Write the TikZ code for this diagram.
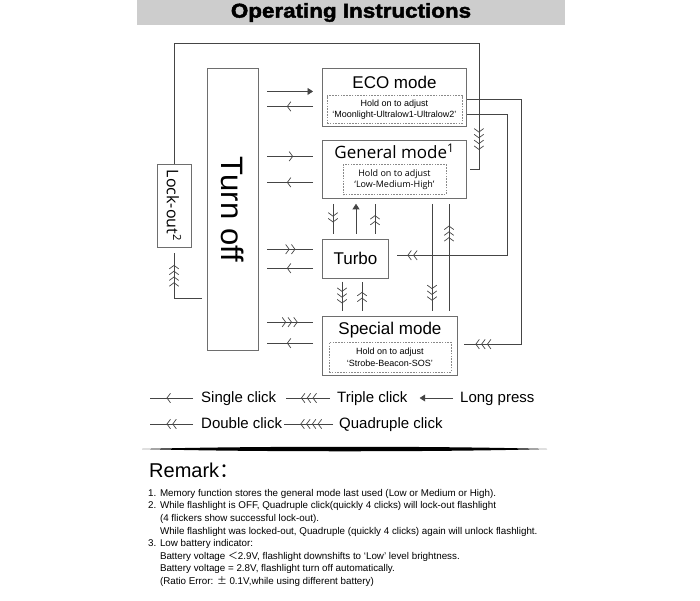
\documentclass[tikz,border=0pt]{standalone}
\usepackage{fontspec}
\setmainfont{Liberation Sans}
\newfontfamily\opensans{Open Sans}
\newfontfamily\cjk{Noto Sans CJK SC}
\newfontfamily\titlefont{Liberation Sans}[FakeStretch=1.12, BoldFeatures={FakeBold=2.2}]
\usepackage{xcolor}
\usepackage{graphicx}
\usepackage{tikz}
\usetikzlibrary{arrows.meta, positioning, calc, decorations.markings}
\definecolor{boxgrey}{HTML}{6E6E6E}
\definecolor{wiregrey}{HTML}{454545}
\definecolor{dashgrey}{HTML}{8A8A8A}
\definecolor{bandgrey}{HTML}{CDCDCD}
\tikzset{ch/.tip={Straight Barb[length=3.5pt,width=9.5pt,sep=1.5pt]}}

\begin{document}
\begin{tikzpicture}[x=1pt, y=-1pt,
  md/.style={rectangle, draw=boxgrey, line width=0.9pt, anchor=north west, inner sep=0pt},
  hd/.style={rectangle, draw=dashgrey, dash pattern=on 1.6pt off 1.2pt, line width=0.6pt,
             align=center, anchor=south, inner sep=0pt, font=\fontsize{9}{11.5}\selectfont},
  tt/.style={anchor=base, inner sep=0pt, font=\fontsize{17}{20}\selectfont},
  wr/.style={wiregrey, line width=0.7pt},
  lp/.style={-{Triangle[length=5.5pt,width=7pt]}},
  c1/.style={postaction={decorate}, decoration={markings, mark=at position #1 with {\arrow{ch[]}}}},
  c2/.style={postaction={decorate}, decoration={markings, mark=at position #1 with {\arrow{ch[]ch[]}}}},
  c3/.style={postaction={decorate}, decoration={markings, mark=at position #1 with {\arrow{ch[]ch[]ch[]}}}},
  c4/.style={postaction={decorate}, decoration={markings, mark=at position #1 with {\arrow{ch[]ch[]ch[]ch[]}}}},
  key/.style={anchor=west, inner sep=2pt, text height=11pt, text depth=3pt, font=\fontsize{15}{18}\selectfont}]
\useasboundingbox (0,0) rectangle (700,600);

% title band
\fill[bandgrey] (137,0) rectangle (565,25);
\node[font=\titlefont\bfseries\fontsize{20}{24}\selectfont] (title) at (351,12.5) {Operating Instructions};

% mode boxes
\node[md, minimum width=144pt, minimum height=58pt] (eco) at (322,68) {};
\node[md, minimum width=144pt, minimum height=58pt, below=13pt of eco.south west, anchor=north west] (gen) {};
\node[md, minimum width=66pt, minimum height=39pt, below=40pt of gen.south west, anchor=north west,
      font=\fontsize{17}{20}\selectfont] (turbo) {Turbo};
\node[md, minimum width=135pt, minimum height=59pt, below=37pt of turbo.south west, anchor=north west] (spec) {};
\node[md, minimum width=51pt, minimum height=282pt, left=63pt of eco.north west, anchor=north east,
      font=\fontsize{31}{36}\selectfont] (turnoff) {\rotatebox{-90}{Turn off}};
\node[md, minimum width=34pt, minimum height=83pt, anchor=center,
      font=\opensans\fontsize{16}{19}\selectfont] (lock) at (174,205.5) {\rotatebox{-90}{Lock-out\textsuperscript{2}}};

\node[tt] (ecot) at ($(eco.north)+(0,20)$) {ECO mode};
\node[hd, minimum width=135pt, minimum height=28pt, above=3pt of eco.south] (ecoh) {Hold on to adjust\\‘Moonlight-Ultralow1-Ultralow2’};
\node[tt, font=\opensans\fontsize{17}{20}\selectfont] (gent) at ($(gen.north)+(0,19)$) {General mode\textsuperscript{1}};
\node[hd, minimum width=103pt, minimum height=30pt, above=4pt of gen.south,
      font=\opensans\fontsize{9}{11.5}\selectfont] (genh) {Hold on to adjust\\‘Low-Medium-High’};
\node[tt] (spect) at ($(spec.north)+(0,19)$) {Special mode};
\node[hd, minimum width=122pt, minimum height=30pt, above=3pt of spec.south] (spech) {Hold on to adjust\\‘Strobe-Beacon-SOS’};

% turn off <-> modes
\draw[wr, lp] ($(turnoff.east|-eco.west)+(8,-6)$) -- ($(eco.west)+(-9,-6)$);
\draw[wr, c1=0.6] ($(eco.west)+(-9,9)$) -- ($(turnoff.east|-eco.west)+(8,9)$);
\draw[wr, c1=0.6] ($(turnoff.east|-gen.west)+(8,-13)$) -- ($(gen.west)+(-9,-13)$);
\draw[wr, c1=0.6] ($(gen.west)+(-9,13)$) -- ($(turnoff.east|-gen.west)+(8,13)$);
\draw[wr, c2=0.65] ($(turnoff.east|-turbo.west)+(8,-9.5)$) -- ($(turbo.west)+(-9,-9.5)$);
\draw[wr, c1=0.6] ($(turbo.west)+(-9,9.5)$) -- ($(turnoff.east|-turbo.west)+(8,9.5)$);
\draw[wr, c3=0.7] ($(turnoff.east|-spec.west)+(8,-23.5)$) -- ($(spec.west)+(-9,-23.5)$);
\draw[wr, c1=0.6] ($(spec.west)+(-9,-2.5)$) -- ($(turnoff.east|-spec.west)+(8,-2.5)$);

% between the modes
\draw[wr, c2=0.67] ($(turbo.north west|-gen.south)+(11,5)$) -- ($(turbo.north west)+(11,-5)$);
\draw[wr, lp] ($(turbo.north west)+(34,-5)$) -- ($(turbo.north west|-gen.south)+(34,5)$);
\draw[wr, c2=0.67] ($(turbo.north west)+(53,-5)$) -- ($(turbo.north west|-gen.south)+(53,5)$);
\draw[wr, c3=0.8] ($(turbo.south west)+(20,3)$) -- ($(turbo.south west|-spec.north)+(20,-5)$);
\draw[wr, c2=0.7] ($(turbo.south west|-spec.north)+(40,-5)$) -- ($(turbo.south west)+(40,3)$);
\draw[wr, c3=0.92] ($(gen.south west)+(110,5)$) -- ($(gen.south west|-spec.north)+(110,-5)$);
\draw[wr, c3=0.81] ($(gen.south west|-spec.north)+(127,-5)$) -- ($(gen.south west)+(127,5)$);
\draw[wr, c2=-9pt] ($(eco.east)+(0,17)$) -- ++(40,0) |- ($(turbo.east)+(8,-3.5)$);
\draw[wr, c3=-10pt] ($(eco.east)+(0,2)$) -- ++(54,0) |- ($(spec.east)+(6,-1.5)$);

% lock-out loop
\draw[wr, c4=-27pt] (lock.north) -- ++(0,-120) -| ($(gen.east)+(12,0)$) -- ($(gen.east)+(3,0)$);
\draw[wr, c4=-10pt] ($(turnoff.west)+(-5,89)$) -| ($(lock.south)+(0,6)$);

% key
\node[key] (single) at (199,398) {Single click};
\node[key] (triple) at (335,398) {Triple click};
\node[key] (long) at (458,398) {Long press};
\node[key] (double) at (199,424) {Double click};
\node[key] (quad) at (337,424) {Quadruple click};
\coordinate (k1) at (150,398);
\coordinate (k2) at (150,424);
\draw[wr, c1=0.65] ($(single.west)+(-6,0)$) -- (k1);
\draw[wr, c3=0.7] ($(triple.west)+(-5,0)$) -- ($(single.east)+(8,0)$);
\draw[wr, lp] ($(long.west)+(-5,0)$) -- ($(triple.east)+(10,0)$);
\draw[wr, c2=0.65] ($(double.west)+(-6,0)$) -- (k2);
\draw[wr, c4=0.7] ($(quad.west)+(-4,0)$) -- (double.east);

% rule
\fill[black] (142,449) .. controls (240,446) and (450,446) .. (547,449) .. controls (450,452) and (240,452) .. cycle;

% remarks
\node[anchor=base west, inner sep=0pt, font=\fontsize{20}{24}\selectfont] (remark) at (149,477) {Remark{\cjk ：}};
\node[anchor=north west, inner sep=0pt, align=left, font=\fontsize{9.8}{12.6}\selectfont] (notes) at (148,489)
  {1. Memory function stores the general mode last used (Low or Medium or High).\\
   2. While flashlight is OFF, Quadruple click(quickly 4 clicks) will lock-out flashlight\\
   \hphantom{2. }(4 flickers show successful lock-out).\\
   \hphantom{2. }While flashlight was locked-out, Quadruple (quickly 4 clicks) again will unlock flashlight.\\
   3. Low battery indicator:\\
   \hphantom{3. }Battery voltage {\cjk ＜}2.9V, flashlight downshifts to ‘Low’ level brightness.\\
   \hphantom{3. }Battery voltage = 2.8V, flashlight turn off automatically.\\
   \hphantom{3. }(Ratio Error: {\cjk ±} 0.1V,while using different battery)};
\end{tikzpicture}
\end{document}
